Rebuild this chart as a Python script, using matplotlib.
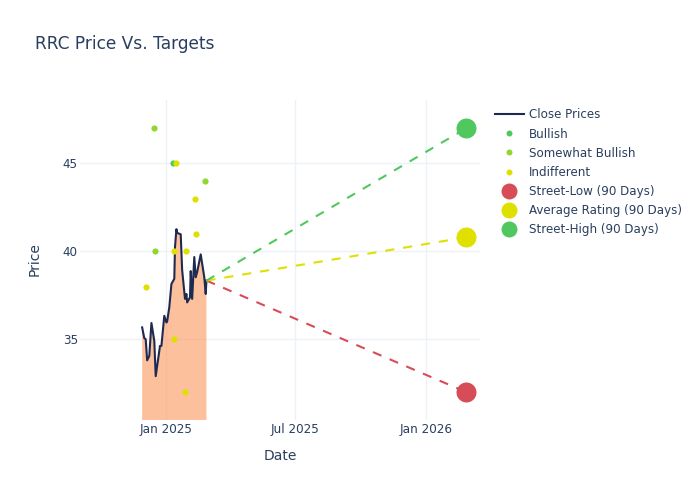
"""RRC price vs. analyst targets."""

import matplotlib
matplotlib.use('Agg')
import matplotlib.pyplot as plt
import pandas as pd
from matplotlib.lines import Line2D

close_dates = [
    '2024-11-29', '2024-12-02', '2024-12-04', '2024-12-06', '2024-12-09', '2024-12-12',
    '2024-12-16', '2024-12-18', '2024-12-24', '2024-12-26', '2024-12-30', '2025-01-02',
    '2025-01-03', '2025-01-06', '2025-01-09', '2025-01-13', '2025-01-14', '2025-01-16',
    '2025-01-17', '2025-01-22', '2025-01-24', '2025-01-28', '2025-01-30', '2025-01-31',
    '2025-02-04', '2025-02-05', '2025-02-07', '2025-02-10', '2025-02-12', '2025-02-14',
    '2025-02-19', '2025-02-24', '2025-02-26', '2025-02-27',
]
close_prices = [
    35.68, 35.07, 35.01, 33.81, 34.06, 35.93,
    34.92, 32.91, 34.63, 34.63, 36.34, 35.96,
    36.02, 36.82, 38.15, 38.44, 40.25, 41.26,
    41.05, 40.97, 38.94, 37.30, 37.58, 37.10,
    37.39, 38.88, 37.30, 39.68, 38.53, 38.82,
    39.83, 38.53, 37.58, 38.34,
]

bullish_dates = ['2025-01-11']
bullish_targets = [45]
somewhat_dates = ['2024-12-16', '2024-12-17', '2025-02-25']
somewhat_targets = [47, 40, 44]
indifferent_dates = ['2024-12-05', '2025-01-12', '2025-01-15', '2025-01-30', '2025-01-28',
                     '2025-02-11', '2025-02-12', '2025-01-13']
indifferent_targets = [38, 40, 45, 40, 32, 43, 41, 35]

target_start = '2025-02-27'
target_end = '2026-02-26'
last_close = 38.34
street_low = 32
average_rating = 40.8
street_high = 47

x_ticks = ['2025-01-01', '2025-07-01', '2026-01-01']
x_tick_labels = ['Jan 2025', 'Jul 2025', 'Jan 2026']
y_ticks = [35, 40, 45]

GREEN = '#50C85F'
LIME = '#92D630'
YELLOW = '#E0E000'
RED = '#D64C57'
NAVY = '#1F2A50'
TEXT = '#2A3F5F'
GRID = '#EEF1F8'


def to_dates(values):
    return pd.to_datetime(values)


def main():
    fig = plt.figure(figsize=(7, 5), dpi=100)
    ax = fig.add_axes([80 / 700, 80 / 500, 400 / 700, 320 / 500])

    ax.set_xlim(pd.Timestamp('2024-09-03'), pd.Timestamp('2026-03-17'))
    ax.set_ylim(30.42, 48.6)

    # Close prices with the filled area down to the axis
    dates = to_dates(close_dates)
    ax.fill_between(dates, 0, close_prices, color='#FD8F50', alpha=0.56, linewidth=0, zorder=2)
    ax.plot(dates, close_prices, color=NAVY, linewidth=1.5, zorder=3)

    # Lines out to the 90 day targets
    ends = [(street_low, RED), (average_rating, YELLOW), (street_high, GREEN)]
    for value, color in ends:
        ax.plot(to_dates([target_start, target_end]), [last_close, value], color=color,
                linewidth=1.5, dashes=(4.4, 4.3), zorder=3)
        ax.scatter(to_dates([target_end]), [value], s=207, color=color, linewidths=0, zorder=5)

    # Analyst ratings
    ax.scatter(to_dates(bullish_dates), bullish_targets, s=20, color=GREEN, linewidths=0, zorder=4)
    ax.scatter(to_dates(somewhat_dates), somewhat_targets, s=20, color=LIME, linewidths=0, zorder=4)
    ax.scatter(to_dates(indifferent_dates), indifferent_targets, s=20, color=YELLOW, linewidths=0, zorder=4)

    ax.set_xticks(to_dates(x_ticks))
    ax.set_xticklabels(x_tick_labels)
    ax.set_yticks(y_ticks)
    ax.tick_params(length=0, labelsize=8.64, labelcolor=TEXT)
    ax.tick_params(axis='x', pad=2)
    ax.tick_params(axis='y', pad=1.5)
    ax.grid(True, color=GRID, linewidth=1)
    ax.set_axisbelow(True)
    for spine in ax.spines.values():
        spine.set_visible(False)

    fig.text(280 / 700, 1 - 456.5 / 500, 'Date', color=TEXT, fontsize=10, ha='center', va='center')
    fig.text(34.5 / 700, 1 - 259.5 / 500, 'Price', color=TEXT, fontsize=10, rotation=90,
             ha='center', va='center')
    fig.text(35 / 700, 1 - 44 / 500, 'RRC Price Vs. Targets', color=TEXT, fontsize=12.25,
             ha='left', va='center')

    handles = [
        Line2D([], [], color=NAVY, linewidth=1.5),
        Line2D([], [], linestyle='', marker='o', markersize=4.3, color=GREEN, markeredgewidth=0),
        Line2D([], [], linestyle='', marker='o', markersize=4.3, color=LIME, markeredgewidth=0),
        Line2D([], [], linestyle='', marker='o', markersize=4.3, color=YELLOW, markeredgewidth=0),
        Line2D([], [], linestyle='', marker='o', markersize=11.5, color=RED, markeredgewidth=0),
        Line2D([], [], linestyle='', marker='o', markersize=11.5, color=YELLOW, markeredgewidth=0),
        Line2D([], [], linestyle='', marker='o', markersize=11.5, color=GREEN, markeredgewidth=0),
    ]
    labels = ['Close Prices', 'Bullish', 'Somewhat Bullish', 'Indifferent',
              'Street-Low (90 Days)', 'Average Rating (90 Days)', 'Street-High (90 Days)']
    fig.legend(handles, labels, loc='upper left', bbox_to_anchor=(494.5 / 700, 1 - 108.5 / 500),
               frameon=False, fontsize=8.55, labelcolor=TEXT, borderpad=0, borderaxespad=0,
               handlelength=2.52, handletextpad=0.36, labelspacing=0.51)

    fig.savefig('out.png', dpi=100)
    plt.close(fig)


if __name__ == '__main__':
    main()
